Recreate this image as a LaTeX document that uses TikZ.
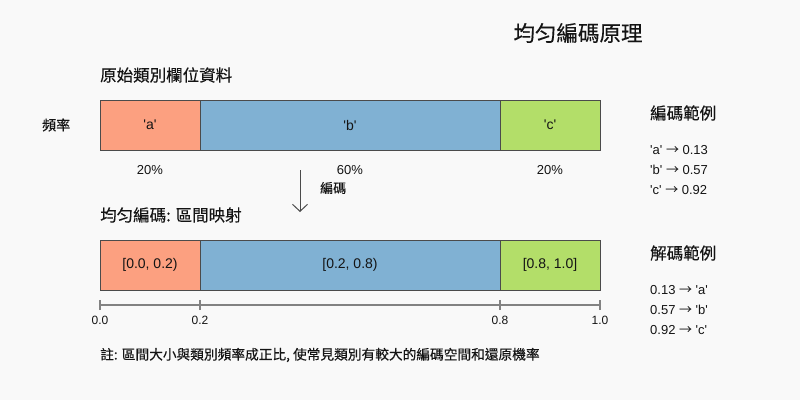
\documentclass[tikz,border=0pt]{standalone}
\usepackage{fontspec}
\setmainfont{Liberation Sans}
\newfontfamily\cjk[FakeBold=0.3]{Noto Sans CJK TC}
\newfontfamily\symf{Noto Sans CJK TC}
\usetikzlibrary{
	arrows.meta,
	positioning
}
\definecolor{BgGray}{RGB}{249,249,249}
\definecolor{SalmonA}{RGB}{252,160,128}
\definecolor{BlueB}{RGB}{128,177,211}
\definecolor{GreenC}{RGB}{179,222,105}
\definecolor{EdgeGray}{RGB}{75,75,75}
\definecolor{AxisGray}{RGB}{130,130,130}
\definecolor{TextDark}{RGB}{20,20,20}
% 直引號與箭頭
\newcommand{\sq}[1]{\textquotesingle#1\textquotesingle}
\newcommand{\arr}{{\symf →}}

\begin{document}
\begin{tikzpicture}[x=1pt, y=-1pt,
		seg/.style={draw=EdgeGray, line width=1pt, minimum height=50pt, inner sep=0pt, outer sep=0pt, anchor=north west, text=TextDark, font=\fontsize{14}{16}\selectfont},
		txt/.style={anchor=west, inner sep=0pt, text=TextDark, font=\fontsize{13}{15}\selectfont},
		head/.style={anchor=west, inner sep=0pt, text=TextDark, font=\fontsize{16.5}{19}\selectfont\cjk},
		tick/.style={anchor=north, inner sep=0pt, text=TextDark, font=\fontsize{12}{14}\selectfont}]
		% 背景
		\fill[BgGray] (0,0) rectangle (800,400);
		\useasboundingbox (0,0) rectangle (800,400);
		
		% 標題
		\node[inner sep=0pt, text=TextDark, font=\fontsize{21.5}{25}\selectfont\cjk] (title) at (578,33) {均匀編碼原理};
		
		% 原始資料
		\node[head] (orig) at (100,75) {原始類別欄位資料};
		\node[txt, font=\fontsize{14}{16}\selectfont\cjk] (freq) at (42,125) {頻率};
		\node[seg, fill=SalmonA, minimum width=100pt] (a) at (100,100) {\sq{a}};
		\node[seg, fill=BlueB, minimum width=300pt] (b) at (a.north east) {\sq{b}};
		\node[seg, fill=GreenC, minimum width=100pt] (c) at (b.north east) {\sq{c}};
		
		% 百分比
		\node[txt, anchor=center] (pa) at (150,170) {20\%};
		\node[txt, anchor=center] (pb) at (350,170) {60\%};
		\node[txt, anchor=center] (pc) at (550,170) {20\%};
		
		% 編碼箭頭
		\coordinate (arrS) at (300,170);
		\coordinate (arrE) at (300,212);
		\draw[-{Straight Barb[length=7pt,width=15pt]}, line width=1pt, EdgeGray] (arrS) -- (arrE);
		\node[txt, font=\fontsize{13}{15}\selectfont\cjk] (enc) at (320,188) {編碼};
		
		% 均匀編碼
		\node[head] (unif) at (100,215) {均匀編碼: 區間映射};
		\node[seg, fill=SalmonA, minimum width=100pt] (ia) at (100,240) {[0.0, 0.2)};
		\node[seg, fill=BlueB, minimum width=300pt] (ib) at (ia.north east) {[0.2, 0.8)};
		\node[seg, fill=GreenC, minimum width=100pt] (ic) at (ib.north east) {[0.8, 1.0]};
		
		% 數軸
		\coordinate (x0) at (100,305);
		\coordinate (x2) at (200,305);
		\coordinate (x8) at (500,305);
		\coordinate (x10) at (600,305);
		\draw[AxisGray, line width=1.5pt] (x0) -- (x10);
		\foreach \p in {x0,x2,x8,x10}
			\draw[AxisGray, line width=1.5pt] ([yshift=-5pt]\p) -- ([yshift=5pt]\p);
		\node[tick] (t0) at (100,316) {0.0};
		\node[tick] (t2) at (200,316) {0.2};
		\node[tick] (t8) at (500,316) {0.8};
		\node[tick] (t10) at (600,316) {1.0};
		
		% 編碼範例
		\node[head] (encex) at (650,113) {編碼範例};
		\node[txt] (e1) at (650,150) {\sq{a} \arr{} 0.13};
		\node[txt] (e2) at (650,170) {\sq{b} \arr{} 0.57};
		\node[txt] (e3) at (650,190) {\sq{c} \arr{} 0.92};
		
		% 解碼範例
		\node[head] (decex) at (650,253) {解碼範例};
		\node[txt] (d1) at (650,290) {0.13 \arr{} \sq{a}};
		\node[txt] (d2) at (650,310) {0.57 \arr{} \sq{b}};
		\node[txt] (d3) at (650,330) {0.92 \arr{} \sq{c}};
		
		% 註
		\node[txt, font=\fontsize{13.7}{16}\selectfont\cjk] (note) at (100,355) {註: 區間大小與類別頻率成正比, 使常見類別有較大的編碼空間和還原機率};
	\end{tikzpicture}
\end{document}
